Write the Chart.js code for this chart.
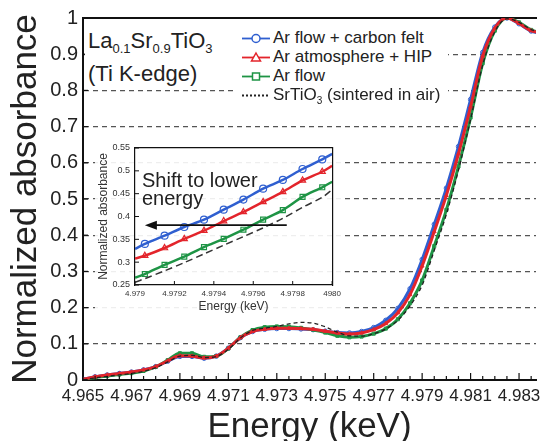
<!DOCTYPE html>
<html>
<head>
<meta charset="utf-8">
<script src="https://cdn.jsdelivr.net/npm/chart.js@4.4.1/dist/chart.umd.min.js"></script>
<style>
  html, body { margin: 0; padding: 0; background: #fff; }
  #wrap { position: relative; width: 541px; height: 441px; overflow: hidden;
          font-family: 'Liberation Sans', Arial, sans-serif; color: #222; }
  #main { position: absolute; left: 0; top: 0; }
  #note { position: absolute; left: 85px; top: 24px; width: 150px; height: 62px;
          padding-left: 3px; background: #fff; font-size: 22px; line-height: 33px; }
  #note sub { font-size: 13px; line-height: 0; vertical-align: -5px; }
  #legend { position: absolute; left: 236px; top: 26px; width: 212px; height: 80px;
            padding-top: 2.5px; box-sizing: border-box; background: #fff; font-size: 17px; }
  #legend .row { height: 19px; display: flex; align-items: center; padding-left: 6px; }
  #legend svg { margin-right: 3px; }
  #legend sub { font-size: 10px; line-height: 0; vertical-align: -4px; }
  #insetBox { position: absolute; left: 95px; top: 136px; width: 250px; height: 180px;
              background: rgba(255,255,255,0.9); }
  #shift { position: absolute; left: 47px; top: 35px; font-size: 20px; line-height: 18px; color: #222; }
</style>
</head>
<body>
<div id="wrap">
  <canvas id="main" width="541" height="441"></canvas>
  <div id="note">La<sub>0.1</sub>Sr<sub>0.9</sub>TiO<sub>3</sub><br>(Ti K-edge)</div>
  <div id="legend"></div>
  <div id="insetBox">
    <canvas id="inset" width="250" height="180"></canvas>
    <div id="shift">Shift to lower<br>energy</div>
  </div>
</div>
<script>
// ---- dados do gráfico principal (Ti K-edge, absorbância normalizada)
const energy = [4.965, 4.9655, 4.966, 4.9665, 4.967, 4.9675, 4.968, 4.9685, 4.969, 4.9695,
  4.970, 4.9705, 4.971, 4.9715, 4.972, 4.9725, 4.973, 4.9735, 4.974, 4.9745,
  4.975, 4.9755, 4.976, 4.9765, 4.977, 4.9775, 4.978, 4.9785, 4.979, 4.9795,
  4.980, 4.9805, 4.981, 4.9815, 4.982, 4.9825, 4.983, 4.9835, 4.984];
const felt = [0.002, 0.009, 0.014, 0.018, 0.022, 0.028, 0.037, 0.052, 0.065, 0.065,
  0.060, 0.066, 0.088, 0.117, 0.134, 0.140, 0.142, 0.142, 0.141, 0.139,
  0.135, 0.131, 0.130, 0.134, 0.145, 0.165, 0.198, 0.252, 0.333, 0.430,
  0.530, 0.645, 0.775, 0.905, 0.975, 1.000, 0.984, 0.964, 0.957];
const hip = [0.002, 0.009, 0.014, 0.018, 0.022, 0.028, 0.037, 0.053, 0.067, 0.066,
  0.061, 0.066, 0.088, 0.117, 0.134, 0.140, 0.143, 0.143, 0.142, 0.140,
  0.135, 0.130, 0.127, 0.130, 0.139, 0.156, 0.186, 0.236, 0.315, 0.410,
  0.510, 0.625, 0.755, 0.895, 0.972, 1.000, 0.985, 0.965, 0.958];
const flow = [0.001, 0.007, 0.011, 0.015, 0.019, 0.025, 0.036, 0.055, 0.074, 0.074,
  0.064, 0.066, 0.087, 0.118, 0.138, 0.146, 0.148, 0.147, 0.144, 0.139,
  0.131, 0.122, 0.118, 0.120, 0.128, 0.142, 0.168, 0.212, 0.275, 0.370,
  0.470, 0.590, 0.725, 0.875, 0.965, 1.000, 0.988, 0.967, 0.958];
const air = [0.000, 0.006, 0.010, 0.014, 0.018, 0.024, 0.034, 0.050, 0.066, 0.068,
  0.062, 0.065, 0.085, 0.116, 0.137, 0.143, 0.148, 0.155, 0.159, 0.157,
  0.147, 0.132, 0.122, 0.121, 0.128, 0.141, 0.165, 0.205, 0.262, 0.358,
  0.458, 0.580, 0.720, 0.870, 0.962, 0.998, 0.988, 0.968, 0.958];

const xLabels = ['4.965', '4.967', '4.969', '4.971', '4.973', '4.975', '4.977', '4.979', '4.981', '4.983'];
const yLabels = ['0', '0.1', '0.2', '0.3', '0.4', '0.5', '0.6', '0.7', '0.8', '0.9', '1'];

// ---- dados do detalhe (inset)
const insetEnergy = [4.979, 4.97905, 4.97915, 4.97925, 4.97935, 4.97945, 4.97955,
  4.97965, 4.97975, 4.97985, 4.97995, 4.980];
const insetFelt = [0.329, 0.340, 0.358, 0.377, 0.393, 0.415, 0.437, 0.461, 0.480, 0.504, 0.525, 0.537];
const insetHip = [0.308, 0.314, 0.331, 0.351, 0.369, 0.390, 0.410, 0.432, 0.454, 0.479, 0.498, 0.511];
const insetFlow = [0.266, 0.274, 0.294, 0.312, 0.333, 0.351, 0.371, 0.393, 0.414, 0.443, 0.464, 0.476];
const insetAir = [0.256, 0.264, 0.281, 0.299, 0.318, 0.337, 0.356, 0.375, 0.396, 0.420, 0.442, 0.459];
const insetXLabels = ['4.979', '4.9792', '4.9794', '4.9796', '4.9798', '4980'];
const insetYLabels = ['0.25', '0.3', '0.35', '0.4', '0.45', '0.5', '0.55'];
const arrowEnergy = [4.97977, 4.97905];
const arrowLevel = 0.381;

const series = [
  { name: 'Ar flow + carbon felt', color: '#2f5fd0', marker: 'circle' },
  { name: 'Ar atmosphere + HIP', color: '#e3242b', marker: 'triangle' },
  { name: 'Ar flow', color: '#1e9445', marker: 'rect' },
  { name: 'SrTiO<sub>3</sub> (sintered in air)', color: '#222', marker: null }
];

const FONT = "'Liberation Sans', Arial, sans-serif";
const pts = (xs, ys) => xs.map((x, i) => ({ x: x, y: ys[i] }));
const clear = 'rgba(0,0,0,0)';

// marcas de escala para dentro
const tickMarks = {
  id: 'tickMarks',
  afterDatasetsDraw(chart, args, o) {
    const { ctx, chartArea: a, scales } = chart;
    ctx.save();
    ctx.strokeStyle = '#111';
    ctx.lineWidth = o.width;
    scales.x.ticks.forEach(t => {
      const px = scales.x.getPixelForValue(t.value);
      if (px < a.left - 0.5 || px > a.right + 0.5) return;
      const len = t.label ? o.major : o.minor;
      ctx.beginPath(); ctx.moveTo(px, a.bottom); ctx.lineTo(px, a.bottom - len); ctx.stroke();
    });
    scales.y.ticks.forEach(t => {
      const py = scales.y.getPixelForValue(t.value);
      ctx.beginPath(); ctx.moveTo(a.left, py); ctx.lineTo(a.left + o.yLen, py); ctx.stroke();
    });
    ctx.restore();
  }
};

// seta "Shift to lower energy"
const shiftArrow = {
  id: 'shiftArrow',
  afterDatasetsDraw(chart) {
    const { ctx, scales: { x, y } } = chart;
    const x0 = x.getPixelForValue(arrowEnergy[0]);
    const x1 = x.getPixelForValue(arrowEnergy[1]);
    const py = y.getPixelForValue(arrowLevel);
    ctx.save();
    ctx.strokeStyle = '#111';
    ctx.fillStyle = '#111';
    ctx.lineWidth = 1.8;
    ctx.beginPath(); ctx.moveTo(x0, py); ctx.lineTo(x1 + 8, py); ctx.stroke();
    ctx.beginPath(); ctx.moveTo(x1, py); ctx.lineTo(x1 + 12, py - 4.5); ctx.lineTo(x1 + 12, py + 4.5); ctx.closePath(); ctx.fill();
    ctx.restore();
  }
};

// LEGENDA
const legend = document.getElementById('legend');
series.forEach(s => {
  let mark = '';
  if (s.marker === 'circle') mark = `<circle cx="14" cy="9.5" r="4" fill="#fff" stroke="${s.color}" stroke-width="1.5"/>`;
  if (s.marker === 'triangle') mark = `<polygon points="14,5 18.5,13 9.5,13" fill="#fff" stroke="${s.color}" stroke-width="1.5"/>`;
  if (s.marker === 'rect') mark = `<rect x="10.5" y="6" width="7" height="7" fill="#fff" stroke="${s.color}" stroke-width="1.5"/>`;
  const dash = s.marker ? '' : 'stroke-dasharray="2,2"';
  const row = document.createElement('div');
  row.className = 'row';
  row.innerHTML = `<svg width="28" height="19"><line x1="0" y1="9.5" x2="28" y2="9.5" stroke="${s.color}" stroke-width="1.8" ${dash}/>${mark}</svg><span>${s.name}</span>`;
  legend.appendChild(row);
});

// GRÁFICO PRINCIPAL
const markerSet = (s, d, ord) => ({
  data: d, xAxisID: 'x', yAxisID: 'y', order: ord,
  borderColor: s.color, borderWidth: 3,
  pointStyle: s.marker, pointRadius: 2.2, pointBorderWidth: 1,
  pointBorderColor: s.color, pointBackgroundColor: clear
});

new Chart(document.getElementById('main'), {
  type: 'line',
  data: {
    datasets: [
      { data: pts(energy, air), xAxisID: 'x', yAxisID: 'y', order: 0,
        borderColor: '#222', borderWidth: 1.3, borderDash: [4, 3], pointRadius: 0 },
      markerSet(series[1], pts(energy, hip), 1),
      markerSet(series[2], pts(energy, flow), 2),
      markerSet(series[0], pts(energy, felt), 3)
    ]
  },
  options: {
    responsive: false,
    animation: false,
    devicePixelRatio: 1,
    layout: { padding: { top: 18, right: 0, left: 0, bottom: 0 } },
    elements: { line: { cubicInterpolationMode: 'monotone' } },
    plugins: {
      legend: { display: false },
      tooltip: { enabled: false },
      tickMarks: { major: 7, minor: 4, yLen: 5, width: 1.2 }
    },
    scales: {
      x: {
        type: 'linear', min: 4.965, max: 4.9837,
        afterBuildTicks: s => {
          const vals = [];
          for (let i = 0; i < 38; i++) vals.push(+(4.965 + i * 0.0005).toFixed(4));
          s.ticks = vals.map(v => ({ value: v }));
        },
        afterFit: s => { s.height = 61; },
        border: { color: '#111', width: 2 },
        grid: { display: false, drawTicks: false },
        ticks: {
          autoSkip: false, maxRotation: 0, padding: 6, color: '#222',
          font: { size: 17, family: FONT },
          callback: v => xLabels.find(l => Math.abs(parseFloat(l) - v) < 1e-7) || ''
        },
        title: { display: true, text: 'Energy (keV)', color: '#222',
                 font: { size: 35, family: FONT, lineHeight: 0.8 }, padding: { top: 0, bottom: 0 } }
      },
      xt: {
        type: 'linear', position: 'top', min: 4.965, max: 4.9837,
        afterFit: s => { s.height = 0; },
        border: { color: '#111', width: 2 },
        grid: { display: false, drawTicks: false },
        ticks: { display: false }
      },
      y: {
        min: 0, max: 1,
        afterFit: s => { s.width = 83; },
        border: { color: '#111', width: 2, dash: [5, 4] },
        grid: {
          color: c => (c.tick && c.tick.value > 0.05 && c.tick.value < 0.95) ? '#555' : clear,
          lineWidth: 1.2, drawTicks: false
        },
        ticks: { stepSize: 0.1, padding: 5, color: '#222', font: { size: 20, family: FONT },
                 callback: (v, i) => yLabels[i] },
        title: { display: true, text: 'Normalized absorbance', color: '#222',
                 font: { size: 35, family: FONT }, padding: { top: 5, bottom: 0 } }
      }
    }
  },
  plugins: [tickMarks]
});

// GRÁFICO DETALHE
const insetSet = (s, d, ord) => ({
  data: d, xAxisID: 'x', yAxisID: 'y', order: ord,
  borderColor: s.color, borderWidth: 2.5,
  pointStyle: s.marker,
  pointRadius: c => (c.dataIndex === 0 || c.dataIndex === d.length - 1) ? 0 : 3.5,
  pointBorderWidth: 1.2, pointBorderColor: s.color, pointBackgroundColor: clear
});

new Chart(document.getElementById('inset'), {
  type: 'line',
  data: {
    datasets: [
      { data: pts(insetEnergy, insetAir), xAxisID: 'x', yAxisID: 'y', order: 0,
        borderColor: '#333', borderWidth: 1.5, borderDash: [7, 4], pointRadius: 0 },
      insetSet(series[0], pts(insetEnergy, insetFelt), 1),
      insetSet(series[1], pts(insetEnergy, insetHip), 2),
      insetSet(series[2], pts(insetEnergy, insetFlow), 3)
    ]
  },
  options: {
    responsive: false,
    animation: false,
    devicePixelRatio: 1,
    layout: { padding: { top: 12, right: 12, left: 0, bottom: 0 } },
    elements: { line: { tension: 0.3 } },
    plugins: {
      legend: { display: false },
      tooltip: { enabled: false },
      tickMarks: { major: 4, minor: 2, yLen: 4, width: 1 }
    },
    scales: {
      x: {
        type: 'linear', min: 4.979, max: 4.98,
        afterBuildTicks: s => {
          s.ticks = insetXLabels.map((l, i) => ({ value: +(4.979 + i * 0.0002).toFixed(4) }));
        },
        afterFit: s => { s.height = 31; },
        border: { color: '#111', width: 1.2 },
        grid: { display: false, drawTicks: false },
        ticks: { autoSkip: false, maxRotation: 0, padding: 4, color: '#333',
                 font: { size: 8, family: FONT }, callback: (v, i) => insetXLabels[i] },
        title: { display: true, text: 'Energy (keV)', color: '#333',
                 font: { size: 12, family: FONT }, padding: { top: 0, bottom: 2 } }
      },
      xt: {
        type: 'linear', position: 'top', min: 4.979, max: 4.98,
        afterFit: s => { s.height = 0; },
        border: { color: '#111', width: 1.2 },
        grid: { display: false, drawTicks: false },
        ticks: { display: false }
      },
      y: {
        min: 0.25, max: 0.55,
        afterFit: s => { s.width = 40; },
        border: { color: '#111', width: 1.2 },
        grid: { display: false, drawTicks: false },
        ticks: { stepSize: 0.05, padding: 5, color: '#333', font: { size: 9, family: FONT },
                 callback: (v, i) => insetYLabels[i] },
        title: { display: true, text: 'Normalized absorbance', color: '#333',
                 font: { size: 12, family: FONT }, padding: { top: 1, bottom: 0 } }
      },
      yr: {
        position: 'right', min: 0.25, max: 0.55,
        afterFit: s => { s.width = 0; },
        border: { color: '#111', width: 1.2 },
        grid: { display: false, drawTicks: false },
        ticks: { display: false }
      }
    }
  },
  plugins: [tickMarks, shiftArrow]
});
</script>
</body>
</html>
